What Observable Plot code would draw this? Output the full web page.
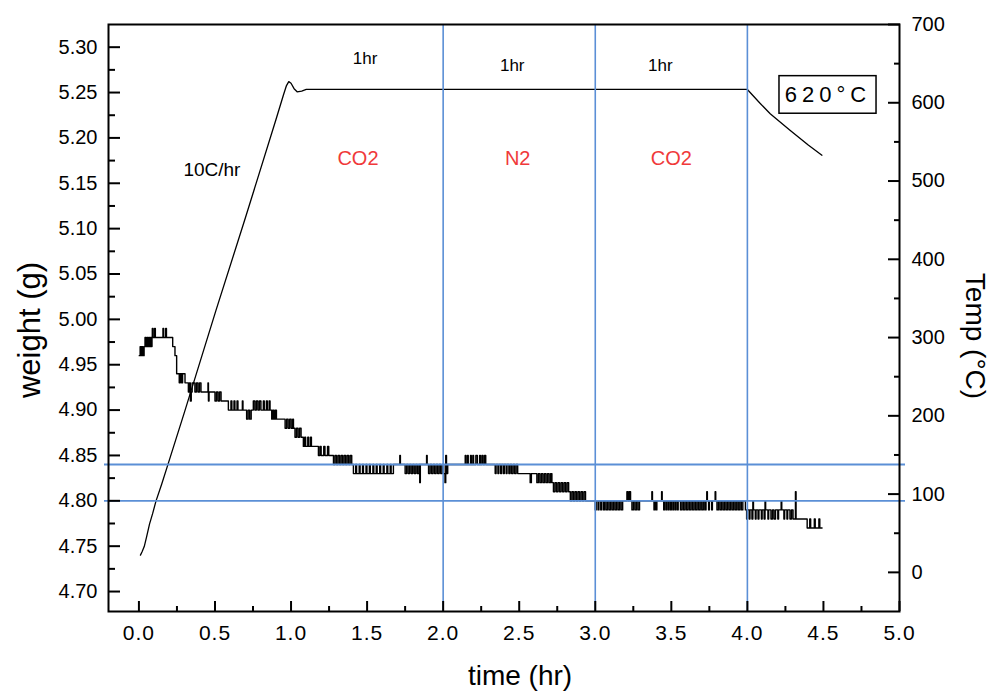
<!DOCTYPE html>
<html>
<head>
<meta charset="utf-8">
<script src="https://cdn.jsdelivr.net/npm/d3@7"></script>
<script src="https://cdn.jsdelivr.net/npm/@observablehq/plot@0.6"></script>
<style>
  html, body { margin: 0; padding: 0; background: #fff; }
  g[aria-label="x-axis tick label"] text { letter-spacing: 1px; }
</style>
</head>
<body>
<div id="chart"></div>
<script>
// ---------- data ----------
// weight (g) vs time (hr): quantised balance readings, step trace
const weightSeries = [
 [0.002,4.96],[0.008,4.97],[0.012,4.96],[0.016,4.97],[0.020,4.96],[0.024,4.97],[0.028,4.96],[0.034,4.97],
 [0.040,4.98],[0.046,4.97],[0.052,4.98],[0.058,4.97],[0.064,4.98],[0.070,4.97],[0.076,4.98],[0.082,4.97],[0.086,4.98],
 [0.088,4.99],[0.093,4.98],[0.103,4.99],[0.108,4.98],[0.158,4.99],[0.163,4.98],[0.176,4.99],[0.181,4.98],
 [0.222,4.97],[0.237,4.96],[0.248,4.94],[0.265,4.93],[0.272,4.94],[0.280,4.93],[0.287,4.94],[0.303,4.93],
 [0.325,4.92],[0.332,4.93],[0.338,4.91],[0.344,4.92],[0.350,4.93],
 [0.368,4.92],[0.378,4.93],[0.388,4.92],[0.398,4.93],[0.408,4.92],
 [0.454,4.93],[0.457,4.91],[0.461,4.92],
 [0.500,4.91],[0.510,4.92],[0.520,4.91],[0.530,4.92],[0.540,4.91],
 [0.588,4.90],[0.605,4.91],[0.611,4.90],[0.625,4.91],[0.631,4.90],[0.645,4.91],[0.651,4.90],[0.680,4.91],[0.684,4.90],
 [0.708,4.89],[0.718,4.90],[0.728,4.89],[0.738,4.90],
 [0.752,4.91],[0.762,4.90],[0.772,4.91],[0.782,4.90],[0.792,4.91],[0.802,4.90],
 [0.818,4.91],[0.824,4.90],[0.838,4.91],[0.844,4.90],[0.856,4.91],[0.862,4.90],
 [0.873,4.89],[0.880,4.90],[0.888,4.89],[0.896,4.90],[0.904,4.89],
 [0.961,4.88],[0.971,4.89],[0.981,4.88],[0.991,4.89],[1.001,4.88],[1.011,4.89],[1.016,4.88],
 [1.026,4.87],[1.036,4.88],[1.046,4.87],[1.056,4.88],[1.066,4.87],
 [1.081,4.86],[1.090,4.87],[1.096,4.86],[1.110,4.87],[1.116,4.86],[1.128,4.87],[1.134,4.86],
 [1.180,4.85],[1.190,4.86],[1.198,4.85],[1.215,4.86],[1.223,4.85],[1.240,4.86],[1.248,4.85],
 [1.279,4.84],[1.289,4.85],[1.299,4.84],[1.309,4.85],[1.319,4.84],[1.329,4.85],[1.339,4.84],[1.349,4.85],[1.359,4.84],[1.369,4.85],[1.379,4.84],[1.389,4.85],[1.399,4.84],
 [1.410,4.83],[1.425,4.84],[1.431,4.83],[1.448,4.84],[1.454,4.83],[1.470,4.84],[1.476,4.83],[1.493,4.84],[1.499,4.83],[1.515,4.84],[1.521,4.83],[1.538,4.84],[1.544,4.83],[1.560,4.84],[1.566,4.83],[1.583,4.84],[1.589,4.83],[1.606,4.84],[1.612,4.83],[1.630,4.84],[1.636,4.83],[1.652,4.84],[1.658,4.83],
 [1.673,4.84],[1.715,4.85],[1.719,4.84],
 [1.750,4.83],[1.760,4.84],[1.770,4.83],[1.780,4.84],[1.790,4.83],[1.800,4.84],[1.810,4.83],[1.820,4.84],[1.830,4.83],[1.840,4.84],[1.846,4.82],[1.850,4.84],
 [1.891,4.85],[1.895,4.84],
 [1.904,4.83],[1.914,4.84],[1.924,4.83],[1.934,4.84],[1.944,4.83],[1.954,4.84],[1.964,4.83],[1.974,4.84],[1.984,4.83],[1.994,4.84],[2.004,4.83],[2.012,4.82],[2.017,4.85],[2.022,4.83],[2.030,4.84],
 [2.145,4.85],[2.150,4.84],[2.160,4.85],[2.165,4.84],[2.180,4.85],[2.185,4.84],[2.195,4.85],[2.200,4.84],[2.215,4.85],[2.225,4.84],[2.240,4.85],[2.245,4.84],[2.255,4.85],[2.262,4.84],[2.272,4.85],[2.280,4.84],
 [2.342,4.83],[2.348,4.84],[2.360,4.83],[2.366,4.84],[2.378,4.83],[2.384,4.84],[2.396,4.83],[2.402,4.84],[2.414,4.83],[2.420,4.84],[2.432,4.83],[2.440,4.84],[2.450,4.83],[2.460,4.84],[2.470,4.83],[2.480,4.84],[2.490,4.83],
 [2.572,4.82],[2.580,4.83],[2.616,4.82],[2.626,4.83],[2.636,4.82],[2.646,4.83],[2.656,4.82],[2.666,4.83],[2.676,4.82],[2.686,4.83],[2.696,4.82],[2.706,4.83],
 [2.715,4.82],[2.725,4.81],[2.735,4.82],[2.745,4.81],[2.755,4.82],[2.765,4.81],[2.775,4.82],[2.785,4.81],[2.795,4.82],[2.805,4.81],[2.815,4.82],[2.825,4.81],
 [2.836,4.80],[2.846,4.81],[2.856,4.80],[2.866,4.81],[2.876,4.80],[2.886,4.81],[2.896,4.80],[2.906,4.81],[2.916,4.80],[2.926,4.81],[2.936,4.80],
 [3.000,4.79],[3.006,4.80],[3.018,4.79],[3.024,4.80],[3.036,4.79],[3.042,4.80],[3.054,4.79],[3.060,4.80],[3.070,4.79],[3.080,4.80],[3.090,4.79],[3.100,4.80],[3.110,4.79],[3.120,4.80],[3.130,4.79],[3.140,4.80],[3.150,4.79],[3.160,4.80],[3.170,4.79],[3.180,4.80],
 [3.208,4.81],[3.216,4.80],[3.224,4.81],[3.232,4.80],
 [3.241,4.79],[3.251,4.80],[3.261,4.79],[3.271,4.80],[3.281,4.79],[3.291,4.80],
 [3.372,4.81],[3.376,4.80],[3.386,4.79],[3.391,4.80],[3.400,4.79],[3.405,4.80],[3.436,4.81],[3.440,4.80],[3.450,4.79],[3.455,4.80],[3.465,4.79],[3.470,4.80],[3.480,4.79],[3.485,4.80],[3.495,4.79],[3.500,4.80],[3.510,4.79],[3.515,4.80],[3.525,4.79],[3.530,4.80],[3.540,4.79],[3.545,4.80],
 [3.560,4.79],[3.570,4.80],[3.580,4.79],[3.590,4.80],[3.600,4.79],[3.610,4.80],[3.620,4.79],[3.630,4.80],[3.640,4.79],[3.650,4.80],[3.660,4.79],[3.670,4.80],[3.680,4.79],[3.690,4.80],[3.700,4.79],[3.710,4.80],[3.720,4.79],[3.728,4.80],
 [3.733,4.81],[3.737,4.80],[3.745,4.79],[3.750,4.80],[3.765,4.79],[3.770,4.80],[3.788,4.81],[3.792,4.80],
 [3.800,4.79],[3.810,4.80],[3.820,4.79],[3.830,4.80],[3.840,4.79],[3.850,4.80],[3.860,4.79],[3.870,4.80],[3.880,4.79],[3.890,4.80],[3.900,4.79],[3.910,4.80],[3.920,4.79],[3.930,4.80],[3.940,4.79],[3.950,4.80],[3.960,4.79],[3.970,4.80],
 [3.987,4.79],[3.995,4.78],[4.000,4.79],[4.012,4.78],[4.017,4.79],[4.030,4.78],[4.036,4.80],[4.040,4.79],[4.052,4.78],[4.057,4.79],[4.070,4.78],[4.076,4.79],[4.092,4.78],[4.097,4.79],[4.110,4.78],[4.116,4.80],[4.120,4.79],[4.135,4.78],[4.140,4.79],[4.155,4.78],[4.165,4.79],[4.175,4.78],[4.185,4.79],[4.200,4.78],[4.205,4.79],[4.222,4.80],[4.226,4.79],[4.240,4.78],[4.245,4.79],[4.260,4.78],[4.265,4.79],[4.280,4.78],[4.290,4.79],[4.300,4.78],
 [4.316,4.81],[4.320,4.78],
 [4.393,4.77],[4.410,4.78],[4.416,4.77],[4.440,4.78],[4.446,4.77],[4.470,4.78],[4.476,4.77],[4.491,4.77]
];

// furnace temperature (°C) vs time (hr)
const tempSeries = [
 [0.010,22],[0.020,26],[0.035,33],[0.050,45],[0.070,62],[0.090,75],[0.112,91],[0.150,113],[0.191,138],
 [0.300,205],[0.507,335],[0.700,453],[0.900,578],[0.950,610],[0.970,622],[0.985,627],[1.000,625],
 [1.020,618],[1.040,614],[1.070,615],[1.100,617],[2.000,617],[3.000,617],[4.000,617],
 [4.080,600],[4.150,586],[4.280,565],[4.400,546],[4.490,533]
];

// gas switch times (hr) and the two reference weights (g)
const switchTimes = [2.0, 3.0, 4.0];
const refWeights = [4.84, 4.80];

// axis ticks
const weightTicks = [4.70, 4.75, 4.80, 4.85, 4.90, 4.95, 5.00, 5.05, 5.10, 5.15, 5.20, 5.25, 5.30];
const weightMinor = [4.725, 4.775, 4.825, 4.875, 4.925, 4.975, 5.025, 5.075, 5.125, 5.175, 5.225, 5.275];
const tempTicks = [0, 100, 200, 300, 400, 500, 600, 700];
const tempMinor = [50, 150, 250, 350, 450, 550, 650];
const timeTicks = [0.0, 0.5, 1.0, 1.5, 2.0, 2.5, 3.0, 3.5, 4.0, 4.5, 5.0];
const timeMinor = [0.25, 0.75, 1.25, 1.75, 2.25, 2.75, 3.25, 3.75, 4.25, 4.75];

// annotations (time in hr, temperature in °C)
const phaseLabels = [
  {t: 1.44, temp: 529, label: "CO2"},
  {t: 2.49, temp: 529, label: "N2"},
  {t: 3.50, temp: 529, label: "CO2"}
];
const durationLabels = [
  {t: 1.487, temp: 657, label: "1hr"},
  {t: 2.454, temp: 648, label: "1hr"},
  {t: 3.428, temp: 648, label: "1hr"}
];
const rateLabel = [{t: 0.48, temp: 514, label: "10C/hr"}];
const holdLabel = [{t1: 4.211, t2: 4.849, temp1: 586, temp2: 634, label: "620°C"}];

// scales
const timeDomain = [-0.2, 5.0];
const weightDomain = [4.678, 5.325];
const tempDomain = [-50, 700];
const toW = d3.scaleLinear(tempDomain, weightDomain);

const FONT = "'Liberation Sans', Arial, Helvetica, sans-serif";
const BLUE = "#5b8fd6";
const RED = "#f0393a";
const blank = () => "";

const chart = Plot.plot({
  width: 992,
  height: 691,
  marginLeft: 108,
  marginRight: 93,
  marginTop: 24,
  marginBottom: 80,
  style: {fontFamily: FONT, background: "#fff", color: "#000"},
  x: {domain: timeDomain, label: null},
  y: {domain: weightDomain, label: null},
  marks: [
    Plot.line(tempSeries, {x: d => d[0], y: d => toW(d[1]), stroke: "#000", strokeWidth: 1.3}),
    Plot.line(weightSeries, {x: d => d[0], y: d => d[1], curve: "step-after", stroke: "#000", strokeWidth: 1.4}),
    Plot.ruleX(switchTimes, {stroke: BLUE, strokeWidth: 1.6}),
    Plot.ruleY(refWeights, {stroke: BLUE, strokeWidth: 1.8, insetLeft: -4, insetRight: -6}),
    Plot.frame({stroke: "#000", strokeWidth: 2}),

    // left axis (weight)
    Plot.axisY(weightTicks, {anchor: "left", tickSize: 0, tickPadding: 11, fontSize: 20, tickFormat: d => d.toFixed(2), label: null}),
    Plot.axisY(weightTicks, {anchor: "left", tickSize: -12, strokeWidth: 2, tickFormat: blank, label: null}),
    Plot.axisY(weightMinor, {anchor: "left", tickSize: -7, strokeWidth: 2, tickFormat: blank, label: null}),

    // right axis (temperature)
    Plot.axisY(tempTicks.map(toW), {anchor: "right", tickSize: 0, tickPadding: 12, fontSize: 20, tickFormat: d => String(Math.round(toW.invert(d))), label: null}),
    Plot.axisY(tempTicks.map(toW), {anchor: "right", tickSize: -12, strokeWidth: 2, tickFormat: blank, label: null}),
    Plot.axisY(tempMinor.map(toW), {anchor: "right", tickSize: -6, strokeWidth: 2, tickFormat: blank, label: null}),

    // bottom axis (time)
    Plot.axisX(timeTicks, {anchor: "bottom", tickSize: 0, tickPadding: 14, fontSize: 21, tickFormat: d => d.toFixed(1), label: null}),
    Plot.axisX(timeTicks, {anchor: "bottom", tickSize: -10, strokeWidth: 2, tickFormat: blank, label: null}),
    Plot.axisX(timeMinor, {anchor: "bottom", tickSize: -5, strokeWidth: 2, tickFormat: blank, label: null}),

    // axis titles
    Plot.text(["weight (g)"], {text: d => d, frameAnchor: "left", textAnchor: "middle", rotate: -90, dx: -78, dy: 12, fontSize: 31}),
    Plot.text(["Temp (°C)"], {text: d => d, frameAnchor: "right", textAnchor: "middle", rotate: 90, dx: 75, dy: 18, fontSize: 28}),
    Plot.text(["time (hr)"], {text: d => d, frameAnchor: "bottom", textAnchor: "middle", dx: 16, dy: 73, lineAnchor: "bottom", fontSize: 28}),

    // annotations
    Plot.text(phaseLabels, {x: "t", y: d => toW(d.temp), text: "label", fill: RED, fontSize: 20}),
    Plot.text(durationLabels, {x: "t", y: d => toW(d.temp), text: "label", fill: "#000", fontSize: 17}),
    Plot.text(rateLabel, {x: "t", y: d => toW(d.temp), text: "label", fill: "#000", fontSize: 19}),
    Plot.rect(holdLabel, {x1: "t1", x2: "t2", y1: d => toW(d.temp1), y2: d => toW(d.temp2), fill: "#fff", stroke: "#000", strokeWidth: 1.5}),
    Plot.text(holdLabel, {x: d => (d.t1 + d.t2) / 2, y: d => toW((d.temp1 + d.temp2) / 2), text: "label", fontSize: 22})
  ]
});
// widen the letter spacing of the boxed hold-temperature label
d3.select(chart).selectAll("text")
  .filter(function () { return this.textContent === holdLabel[0].label; })
  .style("letter-spacing", "5px");
document.getElementById("chart").appendChild(chart);
</script>
</body>
</html>
